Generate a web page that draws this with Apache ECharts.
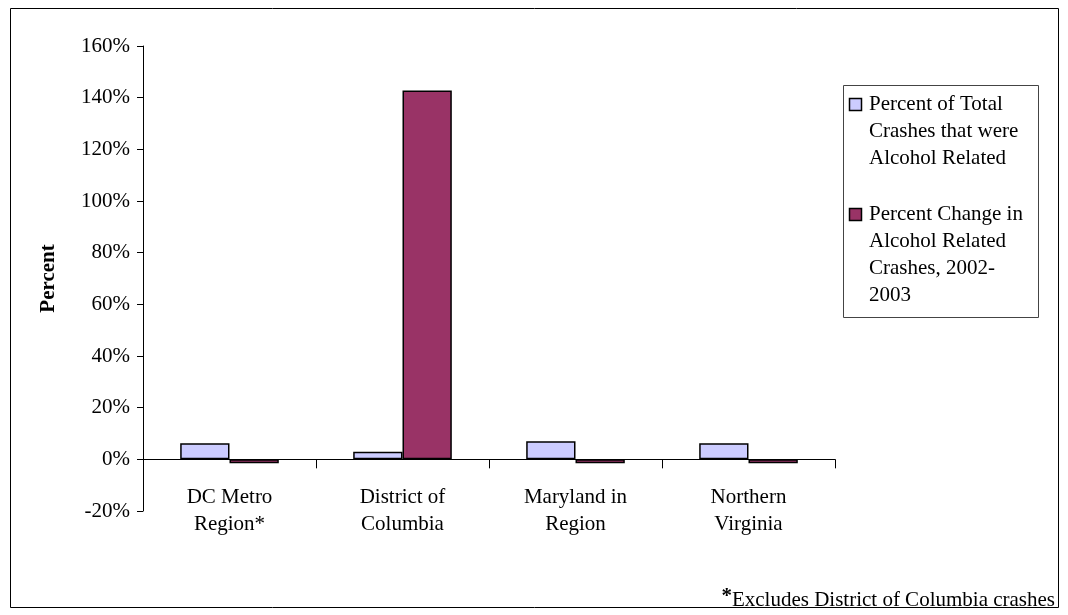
<!DOCTYPE html>
<html>
<head>
<meta charset="utf-8">
<script src="https://cdn.jsdelivr.net/npm/echarts@6/dist/echarts.min.js"></script>
<style>
  html, body { margin: 0; padding: 0; background: #fff; }
  #chart { width: 1068px; height: 615px; }
</style>
</head>
<body>
<div id="chart"></div>
<script>
// Alcohol-related crashes by jurisdiction
const categories = ['DC Metro\nRegion*', 'District of\nColumbia', 'Maryland in\nRegion', 'Northern\nVirginia'];
const seriesNames = [
  'Percent of Total\nCrashes that were\nAlcohol Related',
  'Percent Change in\nAlcohol Related\nCrashes, 2002-\n2003'
];
const shareAlcohol = [6.2, 2.9, 7.0, 6.2];
const changeAlcohol = [-1.5, 142.8, -1.5, -1.5];
const seriesColors = ['#CCCCFF', '#993366'];
const yMin = -20, yMax = 160, yStep = 20;
const footnote = 'Excludes District of Columbia crashes';

const FONT = '"Liberation Serif", "Times New Roman", serif';
const FS = 21;
const chart = echarts.init(document.getElementById('chart'));

// Legend drawn as a boxed list so each swatch sits on its first text line
const legendX = 843, legendY = 85, legendW = 195, legendH = 232;
const legendItemsTop = [91, 201];
const legendGraphics = [{
  type: 'rect',
  shape: { x: legendX + 0.5, y: legendY + 0.5, width: legendW, height: legendH },
  style: { fill: '#fff', stroke: '#444', lineWidth: 1 }
}];
seriesNames.forEach((name, i) => {
  legendGraphics.push({
    type: 'rect',
    shape: { x: 849.5, y: legendItemsTop[i] + 7.5, width: 12, height: 12 },
    style: { fill: seriesColors[i], stroke: '#000', lineWidth: 1.5 }
  });
  legendGraphics.push({
    type: 'text',
    x: 869, y: legendItemsTop[i],
    style: { text: name, font: FS + 'px ' + FONT, fill: '#000', lineHeight: 27, textVerticalAlign: 'top' }
  });
});

const option = {
  backgroundColor: '#fff',
  animation: false,
  grid: { left: 143, right: 233, top: 46, bottom: 104, containLabel: false },
  xAxis: {
    type: 'category',
    data: categories,
    axisLine: { onZero: true, lineStyle: { color: '#000', width: 1 } },
    axisTick: { show: true, inside: false, length: 9, lineStyle: { color: '#000' } },
    axisLabel: { color: '#000', fontFamily: FONT, fontSize: FS, lineHeight: 27, margin: -27, interval: 0 }
  },
  yAxis: {
    type: 'value',
    min: yMin, max: yMax, interval: yStep,
    name: 'Percent',
    nameLocation: 'middle',
    nameGap: 84,
    nameRotate: 90,
    nameTextStyle: { color: '#000', fontFamily: FONT, fontSize: FS, fontWeight: 'bold' },
    axisLine: { show: true, lineStyle: { color: '#000', width: 1 } },
    axisTick: { show: true, inside: false, length: 6, lineStyle: { color: '#000' } },
    axisLabel: { color: '#000', fontFamily: FONT, fontSize: FS, margin: 13, formatter: '{value}%' },
    splitLine: { show: false }
  },
  series: [
    {
      name: seriesNames[0], type: 'bar', data: shareAlcohol,
      barGap: '0%', barCategoryGap: '43%',
      itemStyle: { color: seriesColors[0], borderColor: '#000', borderWidth: 1.5 }
    },
    {
      name: seriesNames[1], type: 'bar', data: changeAlcohol,
      barGap: '0%', barCategoryGap: '43%',
      itemStyle: { color: seriesColors[1], borderColor: '#000', borderWidth: 1.5 }
    }
  ],
  graphic: [
    {
      type: 'rect',
      shape: { x: 10.5, y: 8.5, width: 1048, height: 599 },
      style: { fill: 'none', stroke: '#000', lineWidth: 1 },
      silent: true
    },
    ...legendGraphics,
    {
      type: 'text',
      right: 13, top: 586,
      style: {
        text: '{s|*}{t|' + footnote + '}',
        rich: {
          s: { font: 'bold ' + FS + 'px ' + FONT, fill: '#000', verticalAlign: 'top', padding: [0, 0, 7, 0] },
          t: { font: FS + 'px ' + FONT, fill: '#000' }
        }
      }
    }
  ]
};
chart.setOption(option);
</script>
</body>
</html>
